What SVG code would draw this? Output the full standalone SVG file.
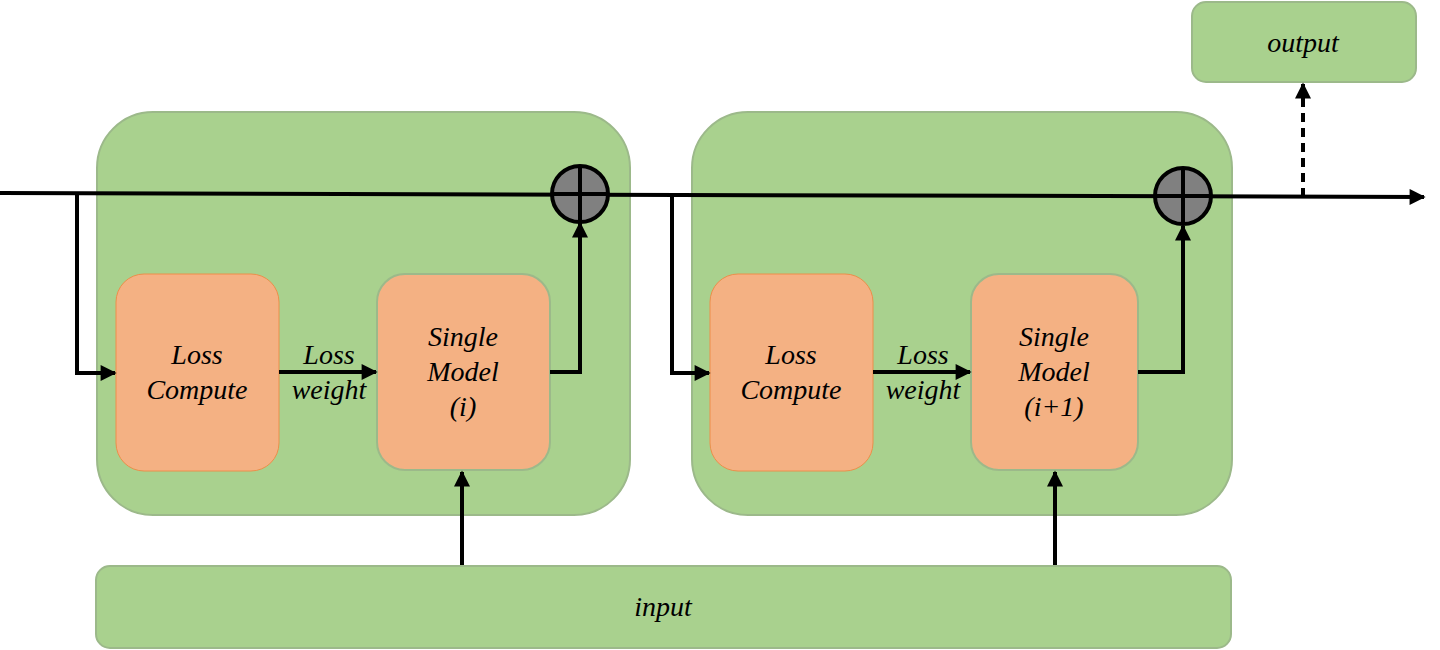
<svg xmlns="http://www.w3.org/2000/svg" width="1440" height="650" viewBox="0 0 1440 650">
<defs>
<style>
.cont{fill:#A9D18E;stroke:#9CB98A;stroke-width:2}
.lc{fill:#F4B183;stroke:#ED8E4A;stroke-width:1}
.sm{fill:#F4B183;stroke:#9CB98A;stroke-width:2}
.io{fill:#A9D18E;stroke:#9CB98A;stroke-width:2}
.ln{fill:none;stroke:#000;stroke-width:4}
.sum{fill:#808080;stroke:#000;stroke-width:4}
text{font-family:"Liberation Serif","Times New Roman",serif;font-style:italic;font-size:28px;fill:#000;text-anchor:middle}
</style>
<marker id="ah" viewBox="0 0 10 10" refX="9" refY="5" markerWidth="4.5" markerHeight="4" orient="auto" markerUnits="strokeWidth">
<path d="M0,0 L10,5 L0,10 z" fill="#000"/>
</marker>
</defs>
<g id="block1"><rect class="cont" x="97" y="112" width="533" height="403" rx="56"/></g>
<g id="block2"><rect class="cont" x="692" y="112" width="540" height="403" rx="56"/></g>
<g id="output"><rect class="io" x="1192" y="2" width="224" height="80" rx="14"/><text x="1303" y="52">output</text></g>
<g id="input"><rect class="io" x="96" y="566" width="1135" height="82" rx="14"/><text x="663" y="616">input</text></g>
<g id="loss1"><rect class="lc" x="116" y="274" width="163" height="197" rx="28"/><text x="197" y="364">Loss</text><text x="197" y="399">Compute</text></g>
<g id="model1"><rect class="sm" x="377" y="274" width="173" height="196" rx="28"/><text x="463" y="346">Single</text><text x="463" y="381">Model</text><text x="463" y="416">(i)</text></g>
<g id="loss2"><rect class="lc" x="710" y="274" width="163" height="197" rx="28"/><text x="791" y="364">Loss</text><text x="791" y="399">Compute</text></g>
<g id="model2"><rect class="sm" x="971" y="274" width="167" height="196" rx="28"/><text x="1054" y="346">Single</text><text x="1054" y="381">Model</text><text x="1054" y="416">(i+1)</text></g>
<g id="connectors">
<path class="ln" d="M0,193 L1424,197" marker-end="url(#ah)"/>
<path class="ln" d="M77,193 L77,373 L115,373" marker-end="url(#ah)"/>
<path class="ln" d="M279,372 L376,372" marker-end="url(#ah)"/>
<path class="ln" d="M550,372 L580,372 L580,223" marker-end="url(#ah)"/>
<path class="ln" d="M462,565 L462,472" marker-end="url(#ah)"/>
<path class="ln" d="M672,195 L672,373 L709,373" marker-end="url(#ah)"/>
<path class="ln" d="M873,372 L970,372" marker-end="url(#ah)"/>
<path class="ln" d="M1138,372 L1183,372 L1183,226" marker-end="url(#ah)"/>
<path class="ln" d="M1055,565 L1055,472" marker-end="url(#ah)"/>
<path class="ln" d="M1303,197 L1303,84" stroke-dasharray="9,6" marker-end="url(#ah)"/>
</g>
<g id="sum1"><circle class="sum" cx="580" cy="194" r="28"/><path class="ln" d="M552,194 H608 M580,166 V222"/></g>
<g id="sum2"><circle class="sum" cx="1183" cy="196" r="28"/><path class="ln" d="M1155,196 H1211 M1183,168 V224"/></g>
<text x="329" y="364">Loss</text>
<text x="329" y="399">weight</text>
<text x="923" y="364">Loss</text>
<text x="923" y="399">weight</text>
</svg>
